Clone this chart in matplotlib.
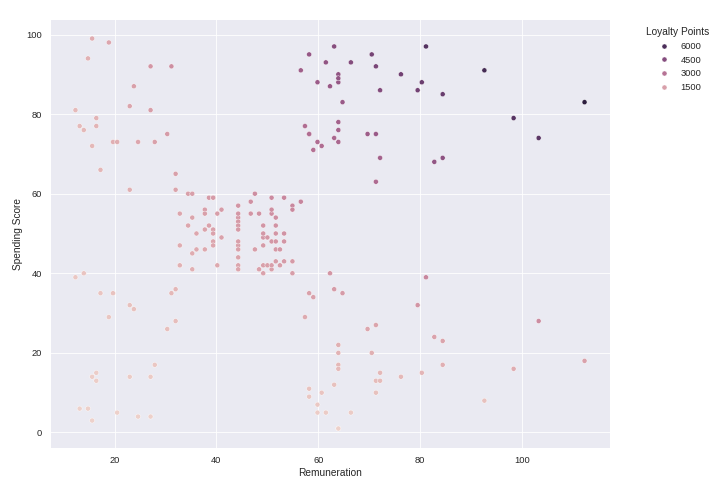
import matplotlib
matplotlib.use("Agg")
import matplotlib.pyplot as plt
import pandas as pd
import seaborn as sns

# remuneration (k£), spending score, loyalty points
remuneration = [
    12.30, 12.30, 13.12, 13.12, 13.94, 13.94, 14.76, 14.76, 15.58, 15.58,
    15.58, 15.58, 16.40, 16.40, 16.40, 16.40, 17.22, 17.22, 18.86, 18.86,
    19.68, 19.68, 20.50, 20.50, 22.96, 22.96, 22.96, 22.96, 23.78, 23.78,
    24.60, 24.60, 27.06, 27.06, 27.06, 27.06, 27.88, 27.88, 30.34, 30.34,
    31.16, 31.16, 31.98, 31.98, 31.98, 31.98, 32.80, 32.80, 32.80, 32.80,
    34.44, 34.44, 35.26, 35.26, 35.26, 35.26, 36.08, 36.08, 37.72, 37.72,
    37.72, 37.72, 38.54, 38.54, 39.36, 39.36, 39.36, 39.36, 39.36, 39.36,
    40.18, 40.18, 41.00, 41.00, 44.28, 44.28, 44.28, 44.28, 44.28, 44.28,
    44.28, 44.28, 44.28, 44.28, 44.28, 44.28, 46.74, 46.74, 47.56, 47.56,
    48.38, 48.38, 49.20, 49.20, 49.20, 49.20, 49.20, 49.20, 50.02, 50.02,
    50.84, 50.84, 50.84, 50.84, 50.84, 50.84, 51.66, 51.66, 51.66, 51.66,
    51.66, 51.66, 52.48, 52.48, 53.30, 53.30, 53.30, 53.30, 54.94, 54.94,
    54.94, 54.94, 56.58, 56.58, 57.40, 57.40, 58.22, 58.22, 58.22, 58.22,
    58.22, 58.22, 59.04, 59.04, 59.86, 59.86, 59.86, 59.86, 60.68, 60.68,
    61.50, 61.50, 62.32, 62.32, 63.14, 63.14, 63.14, 63.14, 63.96, 63.96,
    63.96, 63.96, 63.96, 63.96, 63.96, 63.96, 63.96, 63.96, 63.96, 63.96,
    64.78, 64.78, 66.42, 66.42, 69.70, 69.70, 70.52, 70.52, 71.34, 71.34,
    71.34, 71.34, 71.34, 71.34, 72.16, 72.16, 72.16, 72.16, 76.26, 76.26,
    79.54, 79.54, 80.36, 80.36, 81.18, 81.18, 82.82, 82.82, 84.46, 84.46,
    84.46, 84.46, 92.66, 92.66, 98.40, 98.40, 103.32, 103.32, 112.34, 112.34,
]
spending_score = [
    39, 81, 6, 77, 40, 76, 6, 94, 3, 72,
    14, 99, 15, 77, 13, 79, 35, 66, 29, 98,
    35, 73, 5, 73, 14, 82, 32, 61, 31, 87,
    4, 73, 4, 92, 14, 81, 17, 73, 26, 75,
    35, 92, 36, 61, 28, 65, 55, 47, 42, 42,
    52, 60, 54, 60, 45, 41, 50, 46, 51, 46,
    56, 55, 52, 59, 51, 59, 50, 48, 59, 47,
    55, 42, 49, 56, 47, 54, 53, 48, 52, 42,
    51, 55, 41, 44, 57, 46, 58, 55, 60, 46,
    55, 41, 49, 40, 42, 52, 47, 50, 42, 49,
    41, 48, 59, 55, 56, 42, 50, 46, 43, 48,
    52, 54, 42, 46, 48, 50, 43, 59, 43, 57,
    56, 40, 58, 91, 29, 77, 35, 95, 11, 75,
    9, 75, 34, 71, 5, 88, 7, 73, 10, 72,
    5, 93, 40, 87, 12, 97, 36, 74, 22, 90,
    17, 88, 20, 76, 16, 89, 1, 78, 1, 73,
    35, 83, 5, 93, 26, 75, 20, 95, 27, 63,
    13, 75, 10, 92, 13, 86, 15, 69, 14, 90,
    32, 86, 15, 88, 39, 97, 24, 68, 17, 85,
    23, 69, 8, 91, 16, 79, 28, 74, 18, 83,
]
loyalty_points = [
    351, 729, 58, 739, 408, 775, 65, 1015, 34, 821,
    160, 1129, 180, 924, 156, 948, 441, 832, 400, 1352,
    504, 1051, 75, 1095, 235, 1378, 538, 1025, 539, 1514,
    72, 1314, 79, 1822, 277, 1604, 347, 1489, 577, 1665,
    798, 2098, 842, 1427, 655, 1521, 1320, 1128, 1008, 1008,
    1310, 1512, 1393, 1548, 1161, 1058, 1320, 1214, 1408, 1270,
    1546, 1518, 1466, 1664, 1469, 1699, 1440, 1382, 1699, 1354,
    1617, 1235, 1470, 1680, 1523, 1750, 1717, 1555, 1685, 1361,
    1652, 1782, 1328, 1426, 1847, 1490, 1984, 1881, 2088, 1601,
    1947, 1451, 1764, 1440, 1512, 1872, 1692, 1800, 1537, 1793,
    1525, 1786, 2195, 2046, 2083, 1562, 1890, 1739, 1625, 1814,
    1966, 2041, 1613, 1766, 1872, 1950, 1677, 2301, 1729, 2291,
    2251, 1608, 2401, 3767, 1218, 3234, 1491, 4047, 469, 3195,
    383, 3195, 1469, 3067, 219, 3854, 307, 3197, 444, 3197,
    225, 4185, 1824, 3967, 554, 4481, 1663, 3419, 1030, 4212,
    796, 4118, 936, 3557, 749, 4165, 47, 3650, 47, 3416,
    1659, 3934, 243, 4520, 1326, 3825, 1032, 4902, 1409, 3289,
    679, 3915, 522, 4802, 686, 4541, 792, 3643, 781, 5022,
    1862, 5005, 882, 5174, 2317, 5762, 1454, 4121, 1051, 5253,
    1421, 4264, 542, 6170, 1152, 5688, 2117, 5594, 1480, 6823,
]

df = pd.DataFrame({
    "remuneration": remuneration,
    "spending_score": spending_score,
    "loyalty_points": loyalty_points,
})

sns.set_theme(style="darkgrid")
plt.rcParams["font.family"] = ["Liberation Sans", "DejaVu Sans"]

fig = plt.figure(figsize=(12, 488 / (727 / 12)), dpi=727 / 12)
ax = fig.add_axes([50 / 727, 40 / 488, 560 / 727, 429 / 488])

sns.scatterplot(data=df, x="remuneration", y="spending_score",
                hue="loyalty_points", ax=ax)

ax.set_xlabel("Remuneration")
ax.set_ylabel("Spending Score")

# legend: largest value on top, like the original
handles, labels = ax.get_legend_handles_labels()
ax.legend(handles[::-1], labels[::-1], title="Loyalty Points",
          bbox_to_anchor=(1.05, 1), loc="upper left", frameon=False)

fig.savefig("out.png", dpi=727 / 12)
